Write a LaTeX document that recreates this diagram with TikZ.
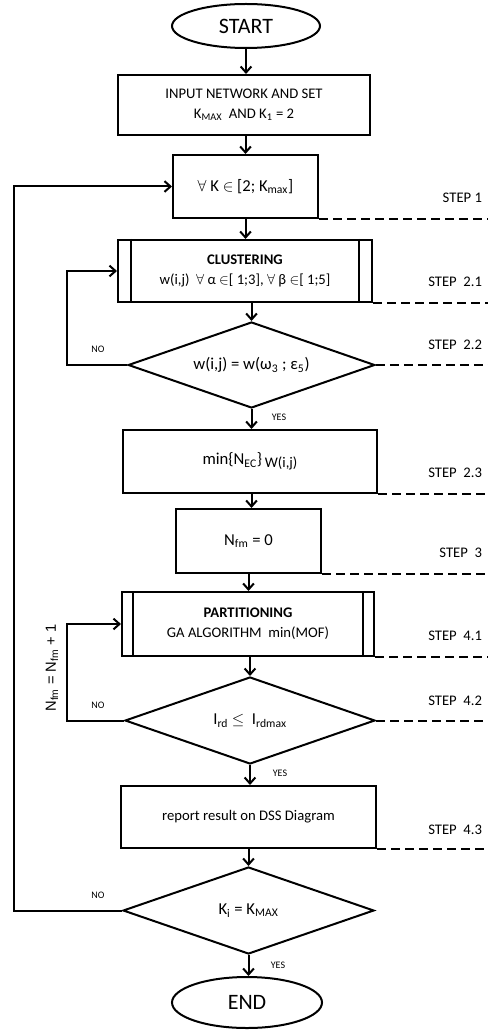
\documentclass[tikz,border=0pt]{standalone}
\usepackage{fontspec}
\setmainfont{Carlito}
\newfontfamily\arialfont{Liberation Sans}
\usetikzlibrary{shapes.geometric,arrows.meta,calc}

\begin{document}
\begin{tikzpicture}[x=0.75pt,y=0.75pt,yscale=-1,xscale=1,line width=1.5pt,
  box/.style={draw,rectangle,inner sep=0pt,align=center,font=\fontsize{11}{15}\selectfont},
  term/.style={draw,ellipse,inner sep=0pt,font=\fontsize{16.5}{18}\selectfont},
  decision/.style={draw,diamond,aspect=2.9,inner sep=0pt,font=\fontsize{12.5}{14}\selectfont},
  arr/.style={-{Straight Barb[length=4.5pt,width=8pt]}},
  stepline/.style={dash pattern=on 6.75pt off 3.75pt},
  steplabel/.style={anchor=east,inner sep=0.75pt,font=\fontsize{11}{13}\selectfont},
  answer/.style={inner sep=0.75pt,font=\fontsize{7.5}{9}\selectfont}]
\useasboundingbox (0,0) rectangle (488,1030);
\coordinate (rim) at (488,0);

%Shape: Ellipse
\node[term,minimum width=111pt,minimum height=33pt] (start) at (246,26) {START};
%Shape: Rectangle
\node[box,minimum width=189pt,minimum height=45pt] (input) at (244,105) {INPUT NETWORK AND SET\\K\textsubscript{MAX}~ AND K\textsubscript{1} = 2};
%Shape: Rectangle
\node[box,minimum width=108.75pt,minimum height=47.25pt,font=\fontsize{12.5}{14}\selectfont] (loopk) at (245.5,186.5) {$\forall$ K $\in$ [2; K\textsubscript{max}]};
%Shape: Predefined Process
\node[box,minimum width=190.5pt,minimum height=46.5pt] (clus) at (245,271) {\textbf{CLUSTERING}\\w(i,j)~ $\forall$ α $\in$[ 1;3], $\forall$ β $\in$[ 1;5]};
\draw ($(clus.north west)+(14,0)$) -- ($(clus.south west)+(14,0)$);
\draw ($(clus.north east)+(-14,0)$) -- ($(clus.south east)+(-14,0)$);
%Shape: Diamond
\node[decision,minimum width=185pt,minimum height=64.5pt] (test1) at (251.5,365) {w(i,j) = w(ω\textsubscript{3} ; ε\textsubscript{5})};
%Shape: Rectangle
\node[box,minimum width=190.5pt,minimum height=47.25pt,font=\fontsize{12.5}{14}\selectfont] (minec) at (250,461.5) {min\{N\textsubscript{EC}\}\,\raisebox{-2pt}{\fontsize{11}{13}\selectfont W(i,j)}};
%Shape: Rectangle
\node[box,minimum width=108.75pt,minimum height=48pt,font=\fontsize{12.5}{14}\selectfont] (nfm) at (248.5,541) {N\textsubscript{fm} = 0};
%Shape: Predefined Process
\node[box,minimum width=189pt,minimum height=48pt] (part) at (248,624) {\textbf{PARTITIONING}\\GA ALGORITHM~ min(MOF)};
\draw ($(part.north west)+(12,0)$) -- ($(part.south west)+(12,0)$);
\draw ($(part.north east)+(-12,0)$) -- ($(part.south east)+(-12,0)$);
%Shape: Diamond
\node[decision,minimum width=187.5pt,minimum height=65.25pt] (test2) at (250,720.5) {I\textsubscript{rd} $\leq$~ I\textsubscript{rdmax}};
%Shape: Rectangle
\node[box,minimum width=191.25pt,minimum height=46.5pt] (report) at (248.5,817) {report result on DSS Diagram};
%Shape: Diamond
\node[decision,minimum width=188.25pt,minimum height=65.25pt] (test3) at (248.5,910.5) {K\textsubscript{i} = K\textsubscript{MAX}};
%Shape: Ellipse
\node[term,minimum width=112.5pt,minimum height=38.25pt] (finish) at (247,1002.5) {END};

%Straight Lines
\draw[arr] (start.south) -- (start.south |- input.north);
\draw[arr] (loopk.north |- input.south) -- (loopk.north);
\draw[arr] (loopk.south) -- (loopk.south |- clus.north);
\draw[arr] (test1.north |- clus.south) -- (test1.north);
\draw[arr] (test1.south) -- (test1.south |- minec.north);
\draw[arr] (test1.south |- minec.south) -- (test1.south |- nfm.north);
\draw[arr] (nfm.south) -- (nfm.south |- part.north);
\draw[arr] (test2.north |- part.south) -- (test2.north);
\draw[arr] (test2.south) -- (test2.south |- report.north);
\draw[arr] (report.south) -- (report.south |- test3.north);
\draw[arr] (test3.south) -- (test3.south |- finish.north);
%Loops back
\draw[arr] (test1.west) -- ++(-60,0) |- (clus.west);
\draw[arr] (test2.west) -- ++(-57,0) |- (part.west);
\draw[arr] (test3.west) -- ++(-108,0) |- (loopk.west);
%Dashed step lines
\draw[stepline] (loopk.south east) -- (loopk.south east -| rim);
\draw[stepline] (clus.south east) -- (clus.south east -| rim);
\draw[stepline] (test1.east) -- (test1.east -| rim);
\draw[stepline] (minec.south east) -- (minec.south east -| rim);
\draw[stepline] (nfm.south east) -- (nfm.south east -| rim);
\draw[stepline] (part.south east) -- (part.south east -| rim);
\draw[stepline] (test2.east) -- (test2.east -| rim);
\draw[stepline] (report.south east) -- (report.south east -| rim);

% Text Node
\node[steplabel] (s1) at (484,198) {STEP 1};
\node[steplabel] (s21) at (484,282) {STEP~~2.1};
\node[steplabel] (s22) at (484,345) {STEP~~2.2};
\node[steplabel] (s23) at (484,473) {STEP~~2.3};
\node[steplabel] (s3) at (484,553) {STEP~~3};
\node[steplabel] (s41) at (484,636) {STEP~~4.1};
\node[steplabel] (s42) at (484,701) {STEP~~4.2};
\node[steplabel] (s43) at (484,830) {STEP~~4.3};
% Text Node
\node[answer] (no1) at (98,349) {NO};
\node[answer] (yes1) at (279,417) {YES};
\node[answer] (no2) at (98,705) {NO};
\node[answer] (yes2) at (280,773) {YES};
\node[answer] (no3) at (98,895) {NO};
\node[answer] (yes3) at (278,965) {YES};
% Text Node
\node[rotate=90,inner sep=0.75pt,font=\arialfont\fontsize{11}{13}\selectfont] (incr) at (52,668) {N\textsubscript{fm} = N\textsubscript{fm} + 1};

\end{tikzpicture}
\end{document}
